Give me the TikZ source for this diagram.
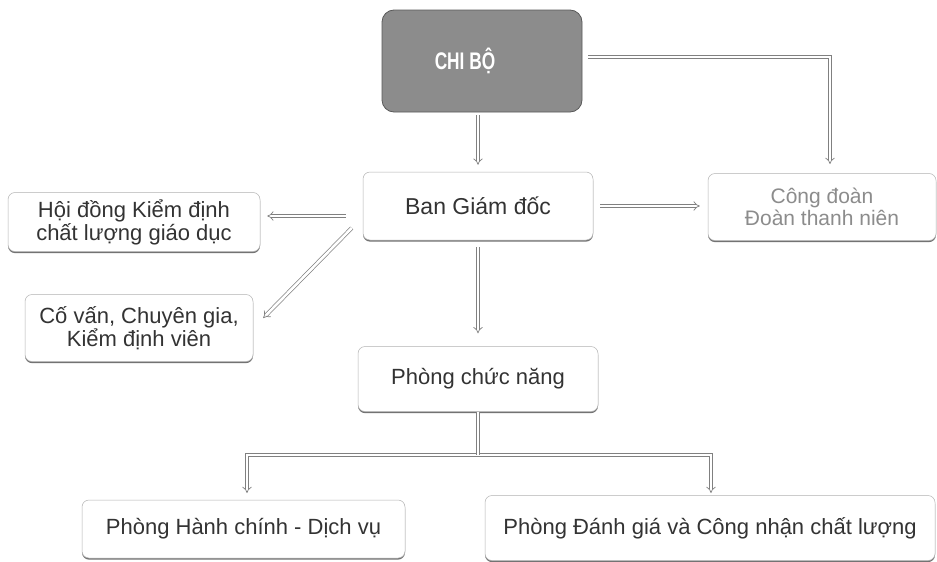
\documentclass[tikz,border=0pt]{standalone}
\usepackage{fontspec}
\usepackage{graphicx}
\setmainfont{Liberation Sans}
\usetikzlibrary{arrows.meta,shadows}
\begin{document}
\begin{tikzpicture}[x=1pt,y=-1pt,
  box/.style={draw=black!30, line width=0.5pt, rounded corners=7pt, fill=white,
    text=black!80, align=center, inner sep=0pt,
    drop shadow={shadow xshift=0pt, shadow yshift=-1.6pt, fill=black!55, opacity=1}},
  chibox/.style={draw=black!65, line width=0.8pt, rounded corners=12pt, fill=black!45,
    text=white, inner sep=0pt,
    font=\fontsize{24}{26}\selectfont\bfseries},
  conn/.style={draw=black!50, line width=0.7pt, double=white, double distance=2.6pt, -{Implies}},
  connplain/.style={draw=black!50, line width=0.7pt, double=white, double distance=2.6pt},
  fa/.style={font=\fontsize{22}{23}\selectfont},
  fb/.style={font=\fontsize{23}{25}\selectfont},
  fc/.style={font=\fontsize{21}{22}\selectfont}]
\fill[white] (0,0) rectangle (937,562);
\useasboundingbox (0,0) rectangle (937,562);

% nodes
\node[chibox, minimum width=200pt, minimum height=102pt] (chibo) at (482,61)
  {\hspace*{-34pt}\scalebox{0.72}[1]{CHI BỘ}};
\node[box, fb, minimum width=230pt, minimum height=68pt] (bgd) at (478,206) {Ban Giám đốc};
\node[box, fc, text=black!45, minimum width=228pt, minimum height=67pt] (cd) at (822,207)
  {Công đoàn\\Đoàn thanh niên};
\node[box, fa, minimum width=252pt, minimum height=59pt] (hd) at (134,222)
  {Hội đồng Kiểm định\\chất lượng giáo dục};
\node[box, fa, minimum width=228pt, minimum height=67pt] (cv) at (139,328)
  {Cố vấn, Chuyên gia,\\Kiểm định viên};
\node[box, fa, minimum width=240pt, minimum height=65pt] (pcn) at (478,379) {Phòng chức năng};
\node[box, fa, minimum width=323pt, minimum height=58pt] (phc) at (243.5,529)
  {Phòng Hành chính - Dịch vụ};
\node[box, fa, minimum width=450pt, minimum height=65pt] (pdg) at (710,528)
  {Phòng Đánh giá và Công nhận chất lượng};

% free ends
\coordinate (cdin) at (830,164);
\coordinate (jn) at (478,455);
\coordinate (phcin) at (247,493);
\coordinate (pdgin) at (711,493);

% connectors
\draw[conn, shorten <=3pt, shorten >=7pt] (chibo.south -| bgd.north) -- (bgd.north);
\draw[conn] ([shift={(6,-4)}]chibo.east) -| (cdin);
\draw[conn] ([xshift=7pt]bgd.east) -- ([xshift=-8pt]bgd.east -| cd.west);
\draw[conn] ([shift={(-17,10)}]bgd.west) -- ([shift={(7,-6)}]hd.east);
\draw[conn] ([shift={(-11,22)}]bgd.west) -- ([shift={(10,-10)}]cv.east);
\draw[conn, shorten <=7pt, shorten >=13pt] (bgd.south) -- (pcn.north);
\draw[conn] (jn) -| (phcin);
\draw[conn] (jn) -| (pdgin);
\draw[connplain] (pcn.south) -- (jn);
\end{tikzpicture}
\end{document}
